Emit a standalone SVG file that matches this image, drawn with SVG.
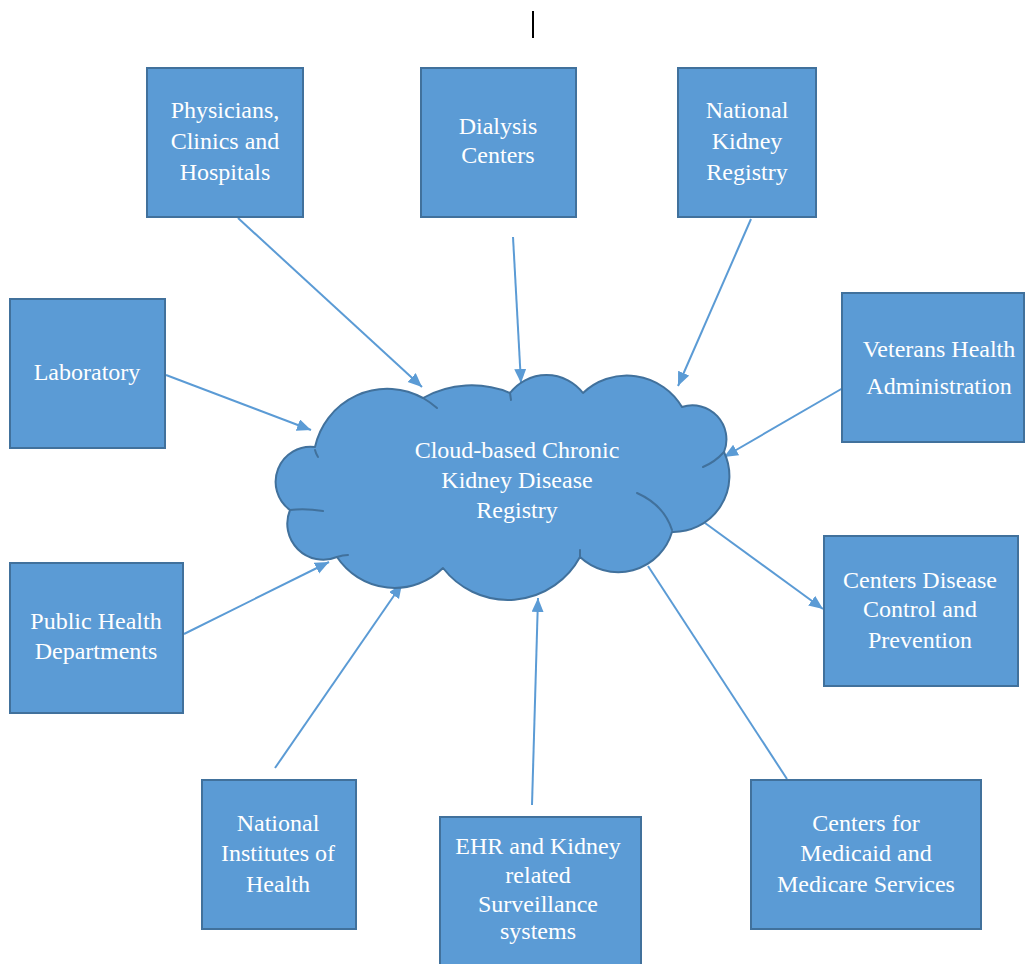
<svg xmlns="http://www.w3.org/2000/svg" width="1026" height="964" viewBox="0 0 1026 964" font-family="Liberation Serif, DejaVu Serif, serif">
<style>
.box{fill:#5B9BD5;stroke:#41719C;stroke-width:2}
.lbl{font-size:24px;fill:#FFFFFF;text-anchor:middle}
.con{stroke:#5B9BD5;stroke-width:2;fill:none}
.cloud{fill:#5B9BD5;stroke:#41719C;stroke-width:2;stroke-linejoin:round}
.inner{fill:none;stroke:#41719C;stroke-width:2;stroke-linecap:round}
</style>
<defs>
<marker id="ah" markerUnits="userSpaceOnUse" markerWidth="16" markerHeight="14" refX="14" refY="6" orient="auto">
<path d="M0,0 L14,6 L0,12 Z" fill="#5B9BD5"/>
</marker>
</defs>
<rect width="1026" height="964" fill="#FFFFFF"/>
<line x1="533" y1="11" x2="533" y2="38" stroke="#000000" stroke-width="2"/>

<g id="connectors">
<line class="con" x1="238" y1="218" x2="422" y2="387" marker-end="url(#ah)"/>
<line class="con" x1="513" y1="237" x2="521" y2="383" marker-end="url(#ah)"/>
<line class="con" x1="751" y1="219" x2="678" y2="386" marker-end="url(#ah)"/>
<line class="con" x1="166" y1="375" x2="311" y2="430" marker-end="url(#ah)"/>
<line class="con" x1="843" y1="388" x2="724" y2="457" marker-end="url(#ah)"/>
<line class="con" x1="705" y1="523" x2="823" y2="609" marker-end="url(#ah)"/>
<line class="con" x1="787" y1="779" x2="648" y2="566"/>
<line class="con" x1="184" y1="634" x2="329" y2="562" marker-end="url(#ah)"/>
<line class="con" x1="275" y1="768" x2="402" y2="584" marker-end="url(#ah)"/>
<line class="con" x1="532" y1="805" x2="538" y2="598" marker-end="url(#ah)"/>
</g>

<g id="cloud">
<path class="cloud" d="M315,447 A74,74 0 0 1 423,398 A100,100 0 0 1 510,393 A46,46 0 0 1 583,393 A64,64 0 0 1 682,407 A34,34 0 0 1 724,452 A56,56 0 0 1 672,532 A56,56 0 0 1 580,557 A82,82 0 0 1 443,568 A69,69 0 0 1 337,557 A36,36 0 0 1 290,510 A35,35 0 0 1 315,447 Z"/>
<path class="inner" d="M423,398 Q430,402 437,408"/>
<path class="inner" d="M510,393 L511,400"/>
<path class="inner" d="M724,452 Q715,462 703,467"/>
<path class="inner" d="M637,493 Q664,505 672,530"/>
<path class="inner" d="M580,557 L580,550"/>
<path class="inner" d="M290,510 Q305,508 323,511"/>
<path class="inner" d="M337,557 Q343,555 348,555"/>
<path class="inner" d="M315,450 Q316,454 318,457"/>
<text class="lbl" x="517" y="458">Cloud-based Chronic</text>
<text class="lbl" x="517" y="488">Kidney Disease</text>
<text class="lbl" x="517" y="518">Registry</text>
</g>

<g id="physicians">
<rect class="box" x="147" y="68" width="156" height="149"/>
<text class="lbl" x="225" y="118">Physicians,</text>
<text class="lbl" x="225" y="149">Clinics and</text>
<text class="lbl" x="225" y="180">Hospitals</text>
</g>
<g id="dialysis">
<rect class="box" x="421" y="68" width="155" height="149"/>
<text class="lbl" x="498" y="134">Dialysis</text>
<text class="lbl" x="498" y="163">Centers</text>
</g>
<g id="nkr">
<rect class="box" x="678" y="68" width="138" height="149"/>
<text class="lbl" x="747" y="118">National</text>
<text class="lbl" x="747" y="149">Kidney</text>
<text class="lbl" x="747" y="180">Registry</text>
</g>
<g id="laboratory">
<rect class="box" x="10" y="299" width="155" height="149"/>
<text class="lbl" x="87" y="380">Laboratory</text>
</g>
<g id="veterans">
<rect class="box" x="842" y="293" width="182" height="149"/>
<text class="lbl" x="939" y="357">Veterans Health</text>
<text class="lbl" x="939" y="394">Administration</text>
</g>
<g id="publichealth">
<rect class="box" x="10" y="563" width="173" height="150"/>
<text class="lbl" x="96" y="629">Public Health</text>
<text class="lbl" x="96" y="659">Departments</text>
</g>
<g id="cdc">
<rect class="box" x="824" y="536" width="194" height="150"/>
<text class="lbl" x="920" y="588">Centers Disease</text>
<text class="lbl" x="920" y="617">Control and</text>
<text class="lbl" x="920" y="648">Prevention</text>
</g>
<g id="nih">
<rect class="box" x="202" y="780" width="154" height="149"/>
<text class="lbl" x="278" y="831">National</text>
<text class="lbl" x="278" y="861">Institutes of</text>
<text class="lbl" x="278" y="892">Health</text>
</g>
<g id="ehr">
<rect class="box" x="440" y="817" width="201" height="150"/>
<text class="lbl" x="538" y="854">EHR and Kidney</text>
<text class="lbl" x="538" y="883">related</text>
<text class="lbl" x="538" y="912">Surveillance</text>
<text class="lbl" x="538" y="939">systems</text>
</g>
<g id="cms">
<rect class="box" x="751" y="780" width="230" height="149"/>
<text class="lbl" x="866" y="831">Centers for</text>
<text class="lbl" x="866" y="861">Medicaid and</text>
<text class="lbl" x="866" y="892">Medicare Services</text>
</g>
</svg>
